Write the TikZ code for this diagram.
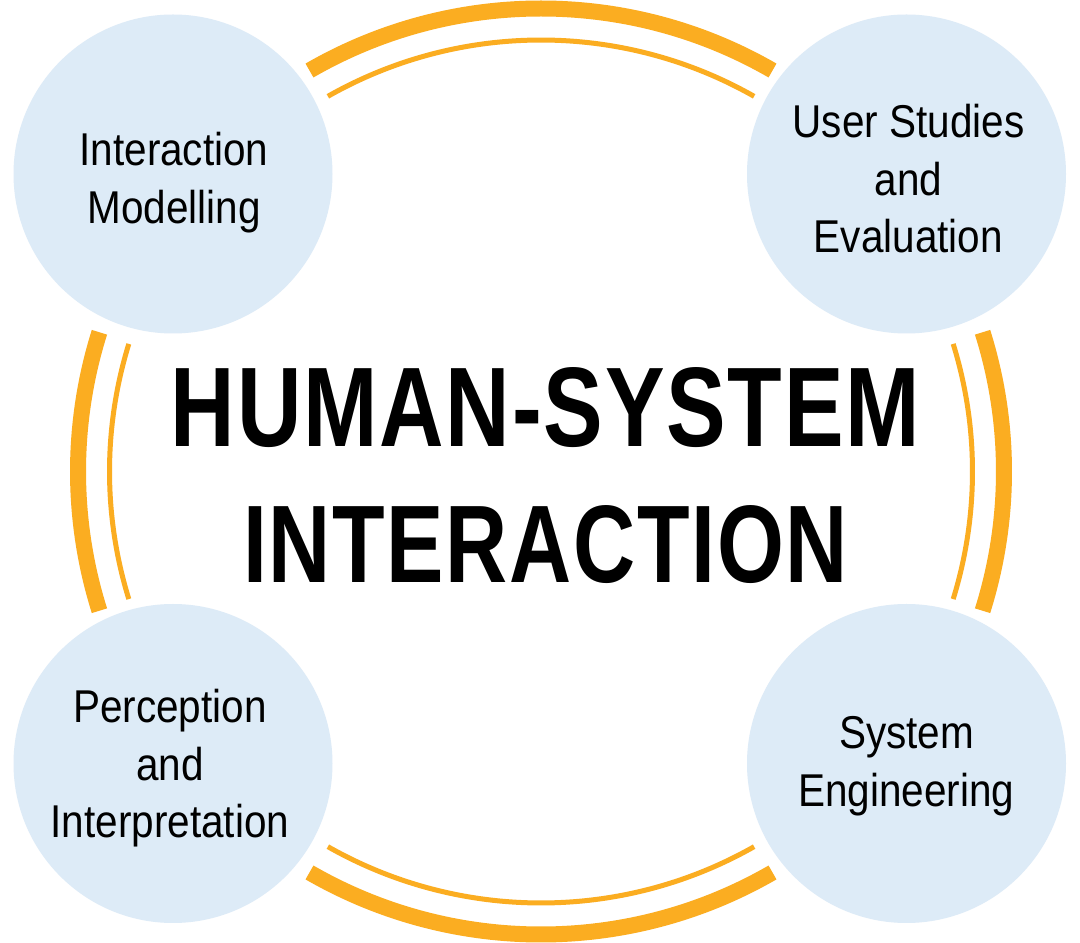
\documentclass[tikz,border=0pt]{standalone}
\usepackage{fontspec}
\setmainfont{Liberation Sans}
\newfontfamily\topicfont[FakeStretch=0.88]{Liberation Sans}
\newfontfamily\titlefont[LetterSpace=2]{Liberation Sans}[BoldFont={* Bold}]
\definecolor{ringorange}{HTML}{FBAD21}
\definecolor{topicblue}{HTML}{DDEBF7}
\begin{document}
\begin{tikzpicture}[x=1pt,y=1pt,
  topic/.style={circle,fill=topicblue,draw=none,inner sep=0pt,minimum size=319pt},
  topictext/.style={anchor=base,inner sep=0pt,font=\topicfont\fontsize{46}{57.5}\selectfont},
  titletext/.style={anchor=base,inner sep=0pt,font=\titlefont\bfseries\fontsize{110}{136}\selectfont},
  thickring/.style={draw=ringorange,line width=16pt,line cap=butt},
  thinring/.style={draw=ringorange,line width=5pt,line cap=butt}]
\useasboundingbox (0,0) rectangle (1080,943);
\fill[white] (0,0) rectangle (1080,943);

% centre of the two rings
\coordinate (ring) at (541,471.5);

% outer thick ring segments
\draw[thickring] (ring) ++(60:463pt)    arc[start angle=60,end angle=120,radius=463pt];
\draw[thickring] (ring) ++(240:463pt)   arc[start angle=240,end angle=300,radius=463pt];
\draw[thickring] (ring) ++(162.5:463pt) arc[start angle=162.5,end angle=197.5,radius=463pt];
\draw[thickring] (ring) ++(-17.5:463pt) arc[start angle=-17.5,end angle=17.5,radius=463pt];

% inner thin ring segments
\draw[thinring] (ring) ++(60.4:431.5pt)  arc[start angle=60.4,end angle=119.6,radius=431.5pt];
\draw[thinring] (ring) ++(240.4:431.5pt) arc[start angle=240.4,end angle=299.6,radius=431.5pt];
\draw[thinring] (ring) ++(162.8:431.5pt) arc[start angle=162.8,end angle=197.2,radius=431.5pt];
\draw[thinring] (ring) ++(-17.2:431.5pt) arc[start angle=-17.2,end angle=17.2,radius=431.5pt];

% topic circles
\node[topic] (c-im) at (173,769) {};
\node[topic] (c-us) at (906.5,769) {};
\node[topic] (c-pi) at (173,179.5) {};
\node[topic] (c-se) at (906.5,179.5) {};

% topic labels
\node[topictext] (t-im) at (174,777)
  {\begin{tabular}[t]{@{}c@{}}Interaction\\Modelling\end{tabular}};
\node[topictext] (t-us) at (908.5,805)
  {\begin{tabular}[t]{@{}c@{}}User Studies\\and\\Evaluation\end{tabular}};
\node[topictext] (t-pi) at (170,220)
  {\begin{tabular}[t]{@{}c@{}}Perception\\and\\Interpretation\end{tabular}};
\node[topictext] (t-se) at (906.5,194)
  {\begin{tabular}[t]{@{}c@{}}System\\Engineering\end{tabular}};

% central title
\node[titletext] (title) at (545.5,496)
  {\begin{tabular}[t]{@{}c@{}}\resizebox{749pt}{79pt}{HUMAN-SYSTEM}\\\resizebox{605pt}{77pt}{INTERACTION}\end{tabular}};
\end{tikzpicture}
\end{document}
